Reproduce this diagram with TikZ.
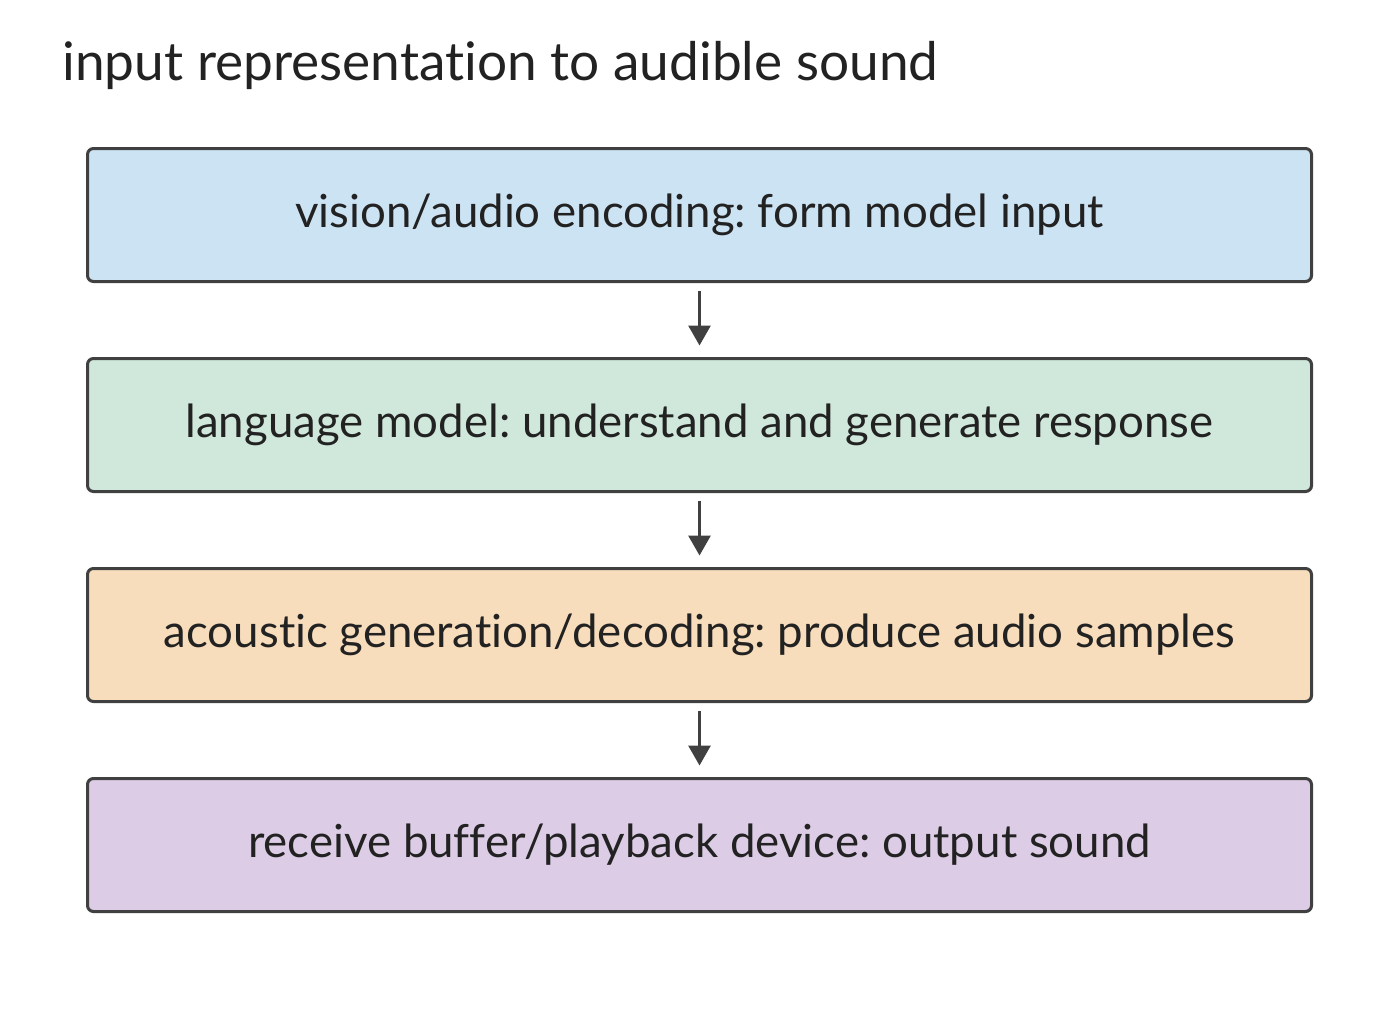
\documentclass[tikz,border=0pt]{standalone}
\usepackage{fontspec}
\setmainfont{Lato}[Ligatures={NoCommon,NoRare}]
\usetikzlibrary{positioning,arrows.meta}
\frenchspacing

\definecolor{encblue}{HTML}{CCE3F3}
\definecolor{lmgreen}{HTML}{D0E8DB}
\definecolor{acorange}{HTML}{F8DDBD}
\definecolor{outpurple}{HTML}{DCCCE6}
\definecolor{edgegray}{HTML}{404040}
\definecolor{textgray}{HTML}{222222}

\tikzset{
	stage/.style={draw=edgegray, line width=1.5pt, rounded corners=3pt,
		minimum width=612pt, minimum height=66.5pt, inner sep=0pt, outer sep=0pt,
		text=textgray, font=\fontsize{22.8pt}{27pt}\selectfont},
	flow/.style={draw=edgegray, line width=1.5pt, shorten <=4.5pt, shorten >=6.5pt,
		-{Triangle[width=11pt,length=10pt]}}
}

\begin{document}
\begin{tikzpicture}
	\useasboundingbox (0,0) rectangle (700pt,-517.5pt);
	% title
	\node[anchor=base west, inner sep=0pt, text=textgray, font=\fontsize{26.6pt}{32pt}\selectfont] (title) at (31pt,-40pt) {input representation to audible sound};
	% stages
	\node[stage, fill=encblue] (enc) at (349.75pt,-107.5pt) {vision/audio encoding: form model input};
	\node[stage, fill=lmgreen, below=38.5pt of enc] (lm) {language model: understand and generate response};
	\node[stage, fill=acorange, below=38.5pt of lm] (acoustic) {acoustic generation/decoding: produce audio samples};
	\node[stage, fill=outpurple, below=38.5pt of acoustic] (play) {receive buffer/playback device: output sound};
	% arrows
	\draw[flow] (enc) -- (lm);
	\draw[flow] (lm) -- (acoustic);
	\draw[flow] (acoustic) -- (play);
\end{tikzpicture}
\end{document}
